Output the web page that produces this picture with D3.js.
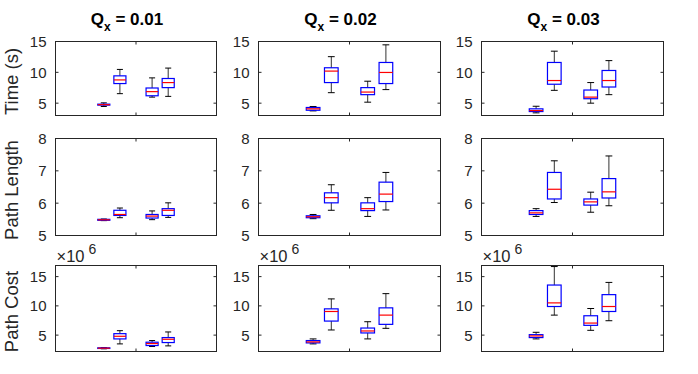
<!DOCTYPE html>
<html>
<head>
<meta charset="utf-8">
<script src="https://cdn.jsdelivr.net/npm/d3@7"></script>
<style>
  body { margin: 0; background: #fff; }
  svg { display: block; font-family: 'Liberation Sans', Arial, sans-serif; }
  .frame { fill: none; stroke: #262626; stroke-width: 1; }
  .tick { stroke: #262626; stroke-width: 1; }
  .ticklabel { font-size: 15px; fill: #262626; }
  .ylabel { font-size: 18.5px; fill: #262626; }
  .title { font-size: 17px; font-weight: bold; fill: #000; }
</style>
</head>
<body>
<svg width="698" height="374"></svg>
<script>
// rows: metric, columns: Q_x
const metrics = ['Time (s)', 'Path Length', 'Path Cost'];
const qValues = ['0.01', '0.02', '0.03'];
const positions = [0.6, 0.8, 1.2, 1.4];

const yDomains = [[3, 15], [5, 8], [2.2, 16.9]];
const yTicks = [[5, 10, 15], [5, 6, 7, 8], [5, 10, 15]];

// each box: [lower whisker, q1, median, q3, upper whisker]
const time001 = [[4.46, 4.68, 4.76, 4.84, 5.05], [6.54, 8.18, 8.77, 9.43, 10.47], [5.98, 6.2, 6.87, 7.46, 9.1], [6.1, 7.52, 8.34, 9.0, 10.69]];
const time002 = [[3.75, 3.85, 4.08, 4.3, 4.46], [6.7, 8.34, 10.2, 10.74, 12.54], [5.16, 6.38, 6.8, 7.52, 8.56], [7.2, 8.18, 9.98, 11.6, 14.46]];
const time003 = [[3.43, 3.64, 3.8, 4.08, 4.5], [7.08, 8.07, 8.67, 11.6, 13.43], [5.0, 5.72, 5.98, 7.13, 8.34], [6.38, 7.62, 8.67, 10.3, 11.9]];

const length001 = [[5.46, 5.47, 5.485, 5.5, 5.51], [5.55, 5.62, 5.65, 5.78, 5.85], [5.49, 5.54, 5.6, 5.65, 5.76], [5.56, 5.62, 5.78, 5.83, 6.01]];
const length002 = [[5.52, 5.55, 5.58, 5.61, 5.65], [5.78, 6.01, 6.17, 6.32, 6.57], [5.59, 5.77, 5.83, 6.01, 6.17], [5.79, 6.05, 6.28, 6.65, 6.95]];
const length003 = [[5.59, 5.65, 5.7, 5.77, 5.83], [6.02, 6.13, 6.43, 6.95, 7.31], [5.72, 5.94, 6.04, 6.13, 6.34], [5.92, 6.16, 6.35, 6.76, 7.46]];

// path cost in units of 1e6
const cost001 = [[2.66, 2.72, 2.77, 2.83, 2.88], [3.5, 4.35, 4.8, 5.25, 5.76], [3.05, 3.22, 3.56, 3.79, 4.07], [3.16, 3.73, 4.29, 4.58, 5.54]];
const cost002 = [[3.5, 3.67, 3.84, 4.07, 4.35], [5.88, 7.4, 9.04, 9.49, 11.19], [4.35, 5.37, 5.71, 6.21, 7.29], [6.16, 6.84, 8.42, 9.66, 12.09]];
const cost003 = [[4.35, 4.58, 4.86, 5.08, 5.48], [8.42, 9.89, 10.51, 13.56, 16.72], [5.82, 6.67, 7.06, 8.31, 9.55], [7.46, 9.04, 9.89, 11.92, 14.01]];

const grid = [
    [time001, time002, time003],
    [length001, length002, length003],
    [cost001, cost002, cost003]
];

const svg = d3.select('svg');

const cols = [[55.5, 216.5], [258.5, 440.5], [481.5, 663.5]];
const rows = [[41.5, 115.5], [138.5, 235.5], [265.5, 351.5]];
const boxWidth = 0.15;
const tickLen = 3;

grid.forEach((rowData, r) => {
    rowData.forEach((boxes, c) => {
        const [x0, x1] = cols[c];
        const [y0, y1] = rows[r];

        const x = d3.scaleLinear().domain([0, 2]).range([x0, x1]);
        const y = d3.scaleLinear().domain(yDomains[r]).range([y1, y0]);

        const g = svg.append('g');

        // boxes
        const b = g.selectAll('g.box')
            .data(boxes.map((d, i) => ({ pos: positions[i], v: d })))
            .enter()
            .append('g')
            .attr('class', 'box');

        // whiskers
        b.append('line')
            .attr('x1', d => x(d.pos)).attr('x2', d => x(d.pos))
            .attr('y1', d => y(d.v[3])).attr('y2', d => y(d.v[4]))
            .attr('stroke', '#333').attr('stroke-width', 1);
        b.append('line')
            .attr('x1', d => x(d.pos)).attr('x2', d => x(d.pos))
            .attr('y1', d => y(d.v[0])).attr('y2', d => y(d.v[1]))
            .attr('stroke', '#333').attr('stroke-width', 1);
        // caps
        [0, 4].forEach(k => {
            b.append('line')
                .attr('x1', d => x(d.pos - boxWidth / 4)).attr('x2', d => x(d.pos + boxWidth / 4))
                .attr('y1', d => y(d.v[k])).attr('y2', d => y(d.v[k]))
                .attr('stroke', '#000').attr('stroke-width', 1);
        });
        // box
        b.append('rect')
            .attr('x', d => x(d.pos - boxWidth / 2))
            .attr('width', d => x(d.pos + boxWidth / 2) - x(d.pos - boxWidth / 2))
            .attr('y', d => y(d.v[3]))
            .attr('height', d => Math.max(0.5, y(d.v[1]) - y(d.v[3])))
            .attr('fill', 'none')
            .attr('stroke', '#0000ff')
            .attr('stroke-width', 1.2);
        // median
        b.append('line')
            .attr('x1', d => x(d.pos - boxWidth / 2)).attr('x2', d => x(d.pos + boxWidth / 2))
            .attr('y1', d => y(d.v[2])).attr('y2', d => y(d.v[2]))
            .attr('stroke', '#ff0000').attr('stroke-width', 1.2);

        // frame
        g.append('rect')
            .attr('class', 'frame')
            .attr('x', x0).attr('y', y0)
            .attr('width', x1 - x0).attr('height', y1 - y0);

        // x tick (middle, top and bottom, inward)
        g.append('line').attr('class', 'tick')
            .attr('x1', x(1)).attr('x2', x(1)).attr('y1', y1).attr('y2', y1 - tickLen);
        g.append('line').attr('class', 'tick')
            .attr('x1', x(1)).attr('x2', x(1)).attr('y1', y0).attr('y2', y0 + tickLen);

        // y ticks, both sides
        yTicks[r].forEach(t => {
            g.append('line').attr('class', 'tick')
                .attr('x1', x0).attr('x2', x0 + tickLen).attr('y1', y(t)).attr('y2', y(t));
            g.append('line').attr('class', 'tick')
                .attr('x1', x1).attr('x2', x1 - tickLen).attr('y1', y(t)).attr('y2', y(t));
            g.append('text').attr('class', 'ticklabel')
                .attr('x', x0 - 9)
                .attr('y', y(t))
                .attr('dy', '0.36em')
                .attr('text-anchor', 'end')
                .text(t);
        });

        // exponent label
        if (r === 2) {
            const ex = g.append('text').attr('class', 'ticklabel')
                .attr('x', x0 + 1).attr('y', y0 - 4)
                .style('font-size', '16.5px');
            ex.append('tspan').text('\u00d710');
            ex.append('tspan').attr('dy', -8).attr('dx', 4).style('font-size', '14px').text('6');
        }

        // column titles
        if (r === 0) {
            const tt = g.append('text').attr('class', 'title')
                .attr('x', (x0 + x1) / 2 - 9)
                .attr('y', 25)
                .attr('text-anchor', 'middle');
            tt.append('tspan').text('Q');
            tt.append('tspan').attr('dy', 6).style('font-size', '12px').text('x');
            tt.append('tspan').attr('dy', -6).text(' = ' + qValues[c]);
        }

        // row labels
        if (c === 0) {
            const cy = (y0 + y1) / 2 + 3;
            g.append('text').attr('class', 'ylabel')
                .attr('transform', `translate(18, ${cy}) rotate(-90)`)
                .attr('text-anchor', 'middle')
                .text(metrics[r]);
        }
    });
});
</script>
</body>
</html>
